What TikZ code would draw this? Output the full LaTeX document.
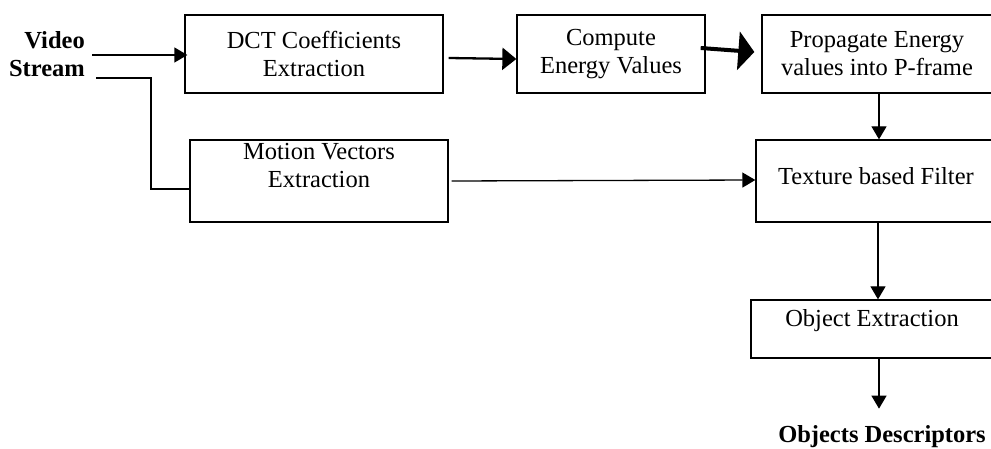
\documentclass[tikz,border=0pt]{standalone}
\usepackage{fontspec}
\setmainfont{Liberation Serif}
\usepackage{tikz}
\usetikzlibrary{arrows.meta,positioning,calc}

\tikzset{
  box/.style={draw,line width=1.3pt,rectangle,inner sep=0pt},
  txt/.style={align=center,inner sep=0pt,font=\fontsize{24.5}{28}\selectfont},
  btxt/.style={txt,font=\fontsize{24.5}{28}\selectfont\bfseries},
  arr/.style={line width=1.3pt,-{Triangle[length=13pt,width=15pt]}},
}

\begin{document}
\begin{tikzpicture}[x=1pt,y=-1pt]
\useasboundingbox (0,0) rectangle (991,449);
% boxes
\node[box,minimum width=258pt,minimum height=78pt] (dct) at (314,54) {};
\node[txt] (dcttxt) at (dct.center) {DCT Coefficients\\Extraction};
\node[box,minimum width=188pt,minimum height=78pt] (energy) at (611,54) {};
\node[txt] (energytxt) at (energy.center) {Compute\\Energy Values};
\node[box,minimum width=230pt,minimum height=78pt] (prop) at (877,54) {};
\node[txt] (proptxt) at (prop.center) {Propagate Energy\\values into P-frame};
\node[box,minimum width=258pt,minimum height=82pt] (motion) at (319,181) {};
\node[txt] (motiontxt) at (319,166) {Motion Vectors\\Extraction};
\node[box,minimum width=236pt,minimum height=82pt] (texture) at (874,181) {};
\node[txt] (texturetxt) at (876,176) {Texture based Filter};
\node[box,minimum width=241pt,minimum height=58pt] (object) at (871.5,329) {};
\node[txt] (objecttxt) at (872,321) {Object Extraction};
% input / output
\node[btxt,align=right,anchor=east] (vs) at (85,54) {Video\\Stream};
\node[btxt] (desc) at (882,437) {Objects Descriptors};
% connectors
\draw[arr] ([xshift=7pt,yshift=-1pt]vs.east) -- ([xshift=3pt,yshift=-1pt]dct.west);
\coordinate (tap) at (96,78);
\draw[line width=1.3pt] (tap) -- (151,78) |- ([yshift=-8pt]motion.west);
\draw[line width=2.3pt,-{Triangle[length=14pt,width=22pt]}] ([xshift=5pt,yshift=-4pt]dct.east) -- ([yshift=-5pt]energy.west);
\draw[line width=4pt,-{Triangle[length=16pt,width=38pt]}] ([xshift=-5pt,yshift=6pt]energy.east) -- ([xshift=-7pt,yshift=2pt]prop.west);
\draw[arr] ([xshift=2pt]prop.south) -- ([xshift=5pt]texture.north);
\draw[arr] ([xshift=3pt]motion.east) -- ([yshift=1pt]texture.west);
\draw[arr] ([xshift=4pt]texture.south) -- ([xshift=6.5pt]object.north);
\draw[arr] ([xshift=7.5pt]object.south) -- ++(0,50);
\end{tikzpicture}
\end{document}
